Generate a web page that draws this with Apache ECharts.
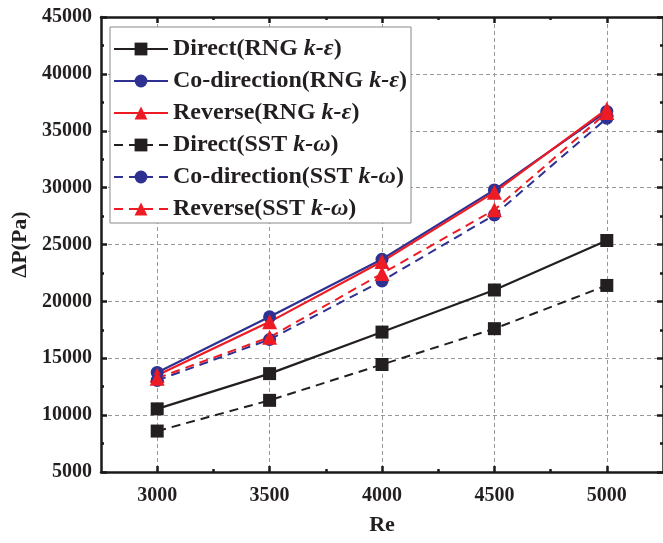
<!DOCTYPE html>
<html>
<head>
<meta charset="UTF-8">
<title>ΔP - Re</title>
<script src="https://cdn.jsdelivr.net/npm/echarts@6/dist/echarts.min.js"></script>
<style>
html, body { margin: 0; padding: 0; background: #fff; }
#zEchart { width: 663px; height: 543px; }
</style>
</head>
<body>
<div id="zEchart"></div>
<script type="text/javascript">
// data
var reValues = [3000, 3500, 4000, 4500, 5000];
var reMinor = [3250, 3750, 4250, 4750];
var directRng = [10550, 13650, 17300, 21000, 25350];
var coRng = [13750, 18650, 23700, 29800, 36700];
var reverseRng = [13500, 18200, 23500, 29600, 36900];
var directSst = [8600, 11300, 14450, 17600, 21400];
var coSst = [13050, 16650, 21800, 27600, 36100];
var reverseSst = [13250, 16850, 22450, 28050, 36600];
var seriesNames = ['Direct(RNG k-ε)', 'Co-direction(RNG k-ε)', 'Reverse(RNG k-ε)',
                   'Direct(SST k-ω)', 'Co-direction(SST k-ω)', 'Reverse(SST k-ω)'];

var fontFam = '"Liberation Serif", "Times New Roman", serif';
var black = '#231f20', blue = '#2e3192', red = '#ed1c24';

function pairs(arr) {
    return reValues.map(function (x, i) { return [x, arr[i]]; });
}

function makeSeries(name, arr, color, symbol, size, dashed) {
    return {
        name: name,
        type: 'line',
        data: pairs(arr),
        symbol: symbol,
        symbolSize: size,
        itemStyle: { color: color },
        lineStyle: { color: color, width: dashed ? 2 : 2.2, type: dashed ? [9, 6] : 'solid' }
    };
}

var myChart = echarts.init(document.getElementById('zEchart'));

var axisLineStyle = { color: '#1a1a1a', width: 2.5 };
var plainNum = function (v) { return String(v); };

var option = {
    animation: false,
    backgroundColor: '#fff',
    grid: { left: 101, right: -3, top: 17, bottom: 71, containLabel: false },
    legend: {
        orient: 'vertical',
        left: 110,
        top: 27,
        padding: [10, 4, 2, 3],
        itemGap: 8,
        itemWidth: 54,
        itemHeight: 16,
        borderColor: '#888',
        borderWidth: 1,
        backgroundColor: '#fff',
        data: seriesNames,
        formatter: function (name) {
            return name.replace(/(k-[εω])/, '{i|$1}');
        },
        textStyle: {
            fontFamily: fontFam, fontWeight: 'bold', fontSize: 24, color: '#231f20',
            rich: { i: { fontFamily: fontFam, fontWeight: 'bold', fontStyle: 'italic', fontSize: 24, color: '#231f20' } }
        }
    },
    xAxis: [{
        type: 'value', position: 'bottom', min: 2750, max: 5250,
        name: 'Re', nameLocation: 'middle', nameGap: 42,
        nameTextStyle: { fontFamily: fontFam, fontWeight: 'bold', fontSize: 22, color: '#231f20' },
        axisLine: { show: true, lineStyle: axisLineStyle },
        axisTick: { show: true, inside: true, length: 6, customValues: reValues, lineStyle: { width: 2.5, color: '#1a1a1a' } },
        axisLabel: { customValues: reValues, formatter: plainNum, margin: 14, fontFamily: fontFam, fontWeight: 'bold', fontSize: 20, color: '#231f20' },
        splitLine: { show: true, lineStyle: { color: '#999', type: [4, 3], width: 1 } }
    }, {
        type: 'value', position: 'bottom', min: 2750, max: 5250,
        axisLine: { show: false },
        axisTick: { show: true, inside: true, length: 3, customValues: reMinor, lineStyle: { width: 2.5, color: '#1a1a1a' } },
        axisLabel: { show: false },
        splitLine: { show: false }
    }, {
        type: 'value', position: 'top', min: 2750, max: 5250,
        axisLine: { show: true, lineStyle: axisLineStyle },
        axisTick: { show: true, inside: true, length: 6, customValues: reValues, lineStyle: { width: 2.5, color: '#1a1a1a' } },
        axisLabel: { show: false },
        splitLine: { show: false }
    }, {
        type: 'value', position: 'top', min: 2750, max: 5250,
        axisLine: { show: false },
        axisTick: { show: true, inside: true, length: 3, customValues: reMinor, lineStyle: { width: 2.5, color: '#1a1a1a' } },
        axisLabel: { show: false },
        splitLine: { show: false }
    }],
    yAxis: [{
        type: 'value', position: 'left', min: 5000, max: 45000, interval: 5000,
        name: 'ΔP(Pa)', nameLocation: 'middle', nameGap: 61, nameRotate: 90,
        nameTextStyle: { fontFamily: fontFam, fontWeight: 'bold', fontSize: 22, color: '#231f20' },
        axisLine: { show: true, lineStyle: axisLineStyle },
        axisTick: { show: true, inside: true, length: 6, lineStyle: { width: 2.5, color: '#1a1a1a' } },
        minorTick: { show: true, splitNumber: 2, length: 3, lineStyle: { width: 2.5, color: '#1a1a1a' } },
        axisLabel: { formatter: plainNum, margin: 9, fontFamily: fontFam, fontWeight: 'bold', fontSize: 20, color: '#231f20' },
        splitLine: { show: true, lineStyle: { color: '#999', type: [4, 3], width: 1 } }
    }, {
        type: 'value', position: 'right', min: 5000, max: 45000, interval: 5000,
        axisLine: { show: true, lineStyle: axisLineStyle },
        axisTick: { show: true, inside: true, length: 6, lineStyle: { width: 2.5, color: '#1a1a1a' } },
        minorTick: { show: true, splitNumber: 2, length: 3, lineStyle: { width: 2.5, color: '#1a1a1a' } },
        axisLabel: { show: false },
        splitLine: { show: false }
    }],
    series: [
        makeSeries(seriesNames[0], directRng, black, 'rect', 13, false),
        makeSeries(seriesNames[1], coRng, blue, 'circle', 13, false),
        makeSeries(seriesNames[2], reverseRng, red, 'triangle', 15, false),
        makeSeries(seriesNames[3], directSst, black, 'rect', 13, true),
        makeSeries(seriesNames[4], coSst, blue, 'circle', 13, true),
        makeSeries(seriesNames[5], reverseSst, red, 'triangle', 15, true)
    ]
};
myChart.setOption(option);
</script>
</body>
</html>
